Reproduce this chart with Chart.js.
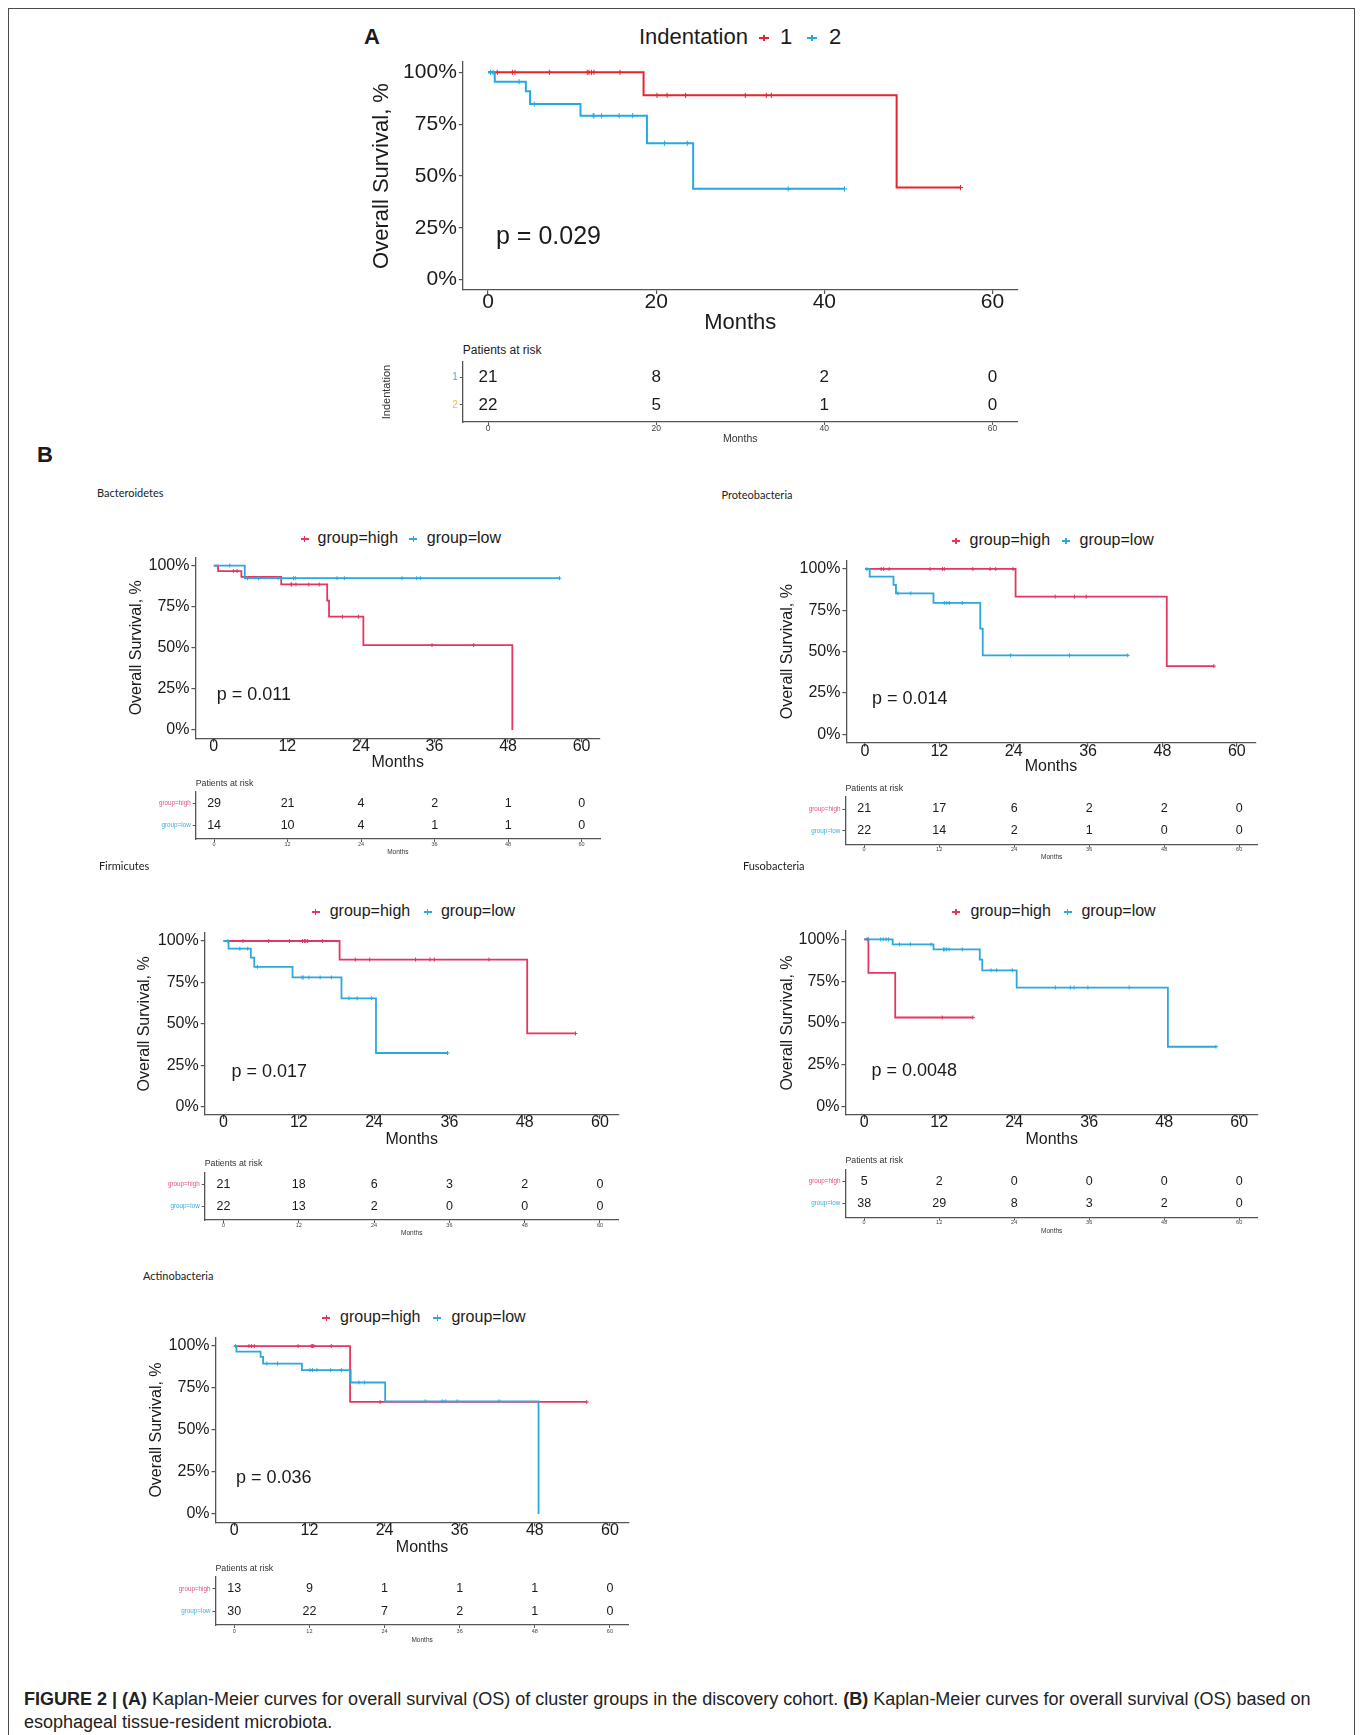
<!DOCTYPE html>
<html lang="en">
<head>
<meta charset="utf-8">
<title>Figure 2 - Kaplan-Meier curves</title>
<script src="https://cdn.jsdelivr.net/npm/chart.js@4.4.1/dist/chart.umd.min.js"></script>
<style>
  body { margin: 0; width: 1363px; height: 1735px; position: relative; overflow: hidden; background: #fff;
         font-family: 'Liberation Sans', Arial, Helvetica, sans-serif; color: #1b1b1b; }
  .frame { position: absolute; left: 8px; top: 8px; width: 1347px; height: 1800px; border: 1.5px solid #4a4a4a; box-sizing: border-box; }
  .t { position: absolute; white-space: nowrap; line-height: 1; transform: translateY(-50%); }
  .sub { font-family: Lato, 'Open Sans', sans-serif; font-size: 11px; color: #222; }
  canvas { position: absolute; }
  .mk { position: absolute; height: 2px; transform: translate(-50%, -50%); }
  .mk i { position: absolute; left: 50%; top: -2px; width: 1.2px; height: 6px; margin-left: -0.6px; }
  .cap { position: absolute; left: 24px; top: 1688px; font-size: 18px; line-height: 23px; color: #222; white-space: nowrap; }
</style>
</head>
<body>
<div class="frame"></div>
<div class="cap"><b>FIGURE 2 | (A)</b> Kaplan-Meier curves for overall survival (OS) of cluster groups in the discovery cohort. <b>(B)</b> Kaplan-Meier curves for overall survival (OS) based on<br>esophageal tissue-resident microbiota.</div>
<script>
// ---- axis ticks ----
const monthTicksA = [0, 20, 40, 60];
const monthTicksB = [0, 12, 24, 36, 48, 60];
const survTicks = [0, 0.25, 0.5, 0.75, 1];

// ---- A: Indentation groups ----
const aOneT = [0, 18.5, 48.6, 56.2];
const aOneS = [1, 0.889, 0.444, 0.444];
const aOneCens = [1.1, 2.9, 3.2, 7.3, 11.8, 12.0, 12.3, 12.6, 15.7, 20.1, 21.3, 23.5, 30.6, 33.1, 33.7, 56.2];
const aTwoT = [0, 0.8, 4.5, 5.0, 11.0, 18.9, 24.4, 42.4];
const aTwoS = [1, 0.955, 0.909, 0.847, 0.791, 0.658, 0.438, 0.438];
const aTwoCens = [0.3, 0.6, 3.7, 5.5, 12.5, 12.6, 13.5, 15.6, 17.2, 21.0, 23.7, 35.7, 42.4];
const aRisk1 = [21, 8, 2, 0];
const aRisk2 = [22, 5, 1, 0];

// ---- Bacteroidetes ----
const bacHighT = [0, 0.7, 4.5, 11.0, 18.5, 18.8, 24.4, 48.7];
const bacHighS = [1, 0.966, 0.931, 0.885, 0.787, 0.689, 0.516, 0];
const bacHighCens = [3.2, 3.8, 12.6, 12.7, 13.4, 15.5, 17.2, 21.0, 23.6, 35.6, 42.4];
const bacLowT = [0, 5.05, 56.4];
const bacLowS = [1, 0.923, 0.923];
const bacLowCens = [2.6, 5.5, 7.3, 10.5, 13.0, 13.3, 20.1, 21.3, 30.7, 33.1, 33.7, 56.4];
const bacRiskHigh = [29, 21, 4, 2, 1, 0];
const bacRiskLow = [14, 10, 4, 1, 1, 0];

// ---- Proteobacteria ----
const proHighT = [0, 24.3, 48.7, 56.3];
const proHighS = [1, 0.833, 0.413, 0.413];
const proHighCens = [2.6, 3.0, 3.9, 10.5, 12.5, 12.8, 17.4, 20.2, 21.1, 23.9, 30.7, 33.8, 35.7, 56.3];
const proLowT = [0, 0.76, 4.6, 5.0, 11.05, 18.6, 19.0, 42.4];
const proLowS = [1, 0.954, 0.904, 0.853, 0.795, 0.639, 0.478, 0.478];
const proLowCens = [0.3, 5.3, 7.4, 12.8, 13.2, 13.6, 15.7, 23.5, 33.0, 42.4];
const proRiskHigh = [21, 17, 6, 2, 2, 0];
const proRiskLow = [22, 14, 2, 1, 0, 0];

// ---- Firmicutes ----
const firHighT = [0, 18.5, 48.4, 56.1];
const firHighS = [1, 0.888, 0.442, 0.442];
const firHighCens = [3.1, 7.2, 10.5, 12.6, 12.9, 13.1, 13.4, 15.8, 21.0, 23.3, 30.6, 32.9, 33.6, 42.3, 56.1];
const firLowT = [0, 0.8, 4.35, 4.9, 11.0, 18.8, 24.3, 35.7];
const firLowS = [1, 0.954, 0.9, 0.844, 0.78, 0.654, 0.324, 0.324];
const firLowCens = [0.7, 2.6, 3.85, 5.4, 12.5, 12.7, 13.6, 15.4, 17.2, 20.0, 21.3, 23.6, 35.7];
const firRiskHigh = [21, 18, 6, 3, 2, 0];
const firRiskLow = [22, 13, 2, 0, 0, 0];

// ---- Fusobacteria ----
const fusHighT = [0, 0.68, 4.97, 17.4];
const fusHighS = [1, 0.8, 0.533, 0.533];
const fusHighCens = [0.5, 12.5, 17.4];
const fusLowT = [0, 4.56, 11.1, 18.5, 18.9, 24.4, 48.6, 56.3];
const fusLowS = [1, 0.97, 0.94, 0.879, 0.815, 0.712, 0.358, 0.358];
const fusLowCens = [0.7, 2.65, 3.05, 3.5, 3.9, 5.65, 7.4, 10.7, 12.7, 12.9, 13.2, 13.6, 15.7, 20.3, 21.2, 23.7, 30.6, 33.0, 33.6, 35.8, 42.4, 56.3];
const fusRiskHigh = [5, 2, 0, 0, 0, 0];
const fusRiskLow = [38, 29, 8, 3, 2, 0];

// ---- Actinobacteria ----
const actHighT = [0, 18.5, 56.3];
const actHighS = [1, 0.667, 0.667];
const actHighCens = [2.35, 2.75, 3.2, 10.2, 12.3, 12.5, 12.7, 15.5, 23.3, 56.3];
const actLowT = [0, 0.35, 4.2, 4.6, 10.8, 18.6, 24.1, 48.6];
const actLowS = [1, 0.967, 0.936, 0.896, 0.857, 0.783, 0.671, 0];
const actLowCens = [0.2, 5.2, 6.9, 12.1, 12.5, 13.2, 15.4, 17.1, 19.9, 20.8, 30.5, 33.2, 33.7, 35.6, 42.3];
const actRiskHigh = [13, 9, 1, 1, 1, 0];
const actRiskLow = [30, 22, 7, 2, 1, 0];

const FF = "'Liberation Sans', Arial, Helvetica, sans-serif";
const TXT = '#1b1b1b';
const AXIS = '#555555';
const RED_A = '#E5252B', BLUE_A = '#27A8E0';
const RED_B = '#E63561', BLUE_B = '#2DA7DF';

function survAt(T, S, t) {
  let v = S[0];
  T.forEach((x, i) => { if (x <= t) v = S[i]; });
  return v;
}

function label(x, y, text, css) {
  const d = document.createElement('div');
  d.className = 't';
  d.style.cssText = 'left:' + x + 'px;top:' + y + 'px;' + (css || '');
  d.textContent = text;
  document.body.appendChild(d);
  return d;
}

function marker(x, y, color, w) {
  const m = document.createElement('div');
  m.className = 'mk';
  m.style.cssText = 'left:' + x + 'px;top:' + y + 'px;width:' + w + 'px;background:' + color;
  const bar = document.createElement('i');
  bar.style.background = color;
  m.appendChild(bar);
  document.body.appendChild(m);
}

function newCanvas(left, top, w, h) {
  const cv = document.createElement('canvas');
  cv.width = w; cv.height = h;
  cv.style.left = left + 'px'; cv.style.top = top + 'px';
  document.body.appendChild(cv);
  return cv;
}

// draws the at-risk counts at each point of the table datasets
const riskText = {
  id: 'riskText',
  afterDatasetsDraw(chart, args, opts) {
    const ctx = chart.ctx;
    ctx.save();
    ctx.font = opts.size + 'px ' + FF;
    ctx.fillStyle = TXT;
    ctx.textAlign = 'center';
    ctx.textBaseline = 'middle';
    chart.data.datasets.forEach((ds, i) => {
      chart.getDatasetMeta(i).data.forEach((pt, j) => ctx.fillText(String(ds.data[j].n), pt.x, pt.y));
    });
    ctx.restore();
  }
};

function makeKM(p) {
  const cl = Math.round(p.yTitleX - p.titleSize / 2 - 2);
  const ct = Math.round(p.T - 24);
  const cr = Math.round(p.R + 14);
  const cb = Math.round(p.xTitleY + p.titleSize / 2 + 3);
  const cv = newCanvas(cl, ct, cr - cl, cb - ct);
  const datasets = [];
  p.groups.forEach((g, gi) => {
    datasets.push({
      type: 'line', order: 10 - gi,
      data: g.t.map((t, i) => ({ x: t, y: g.s[i] })),
      borderColor: g.color, borderWidth: p.lw, stepped: 'before',
      pointRadius: 0, fill: false, tension: 0
    });
    datasets.push({
      type: 'scatter', order: 2 - gi,
      data: g.cens.map(t => ({ x: t, y: survAt(g.t, g.s, t) })),
      pointStyle: 'cross', radius: p.cr, borderWidth: 1,
      borderColor: g.color, backgroundColor: g.color
    });
  });
  const tickFont = { family: FF, size: p.tickSize, lineHeight: 1 };
  const titleFont = { family: FF, size: p.titleSize, lineHeight: 1 };
  return new Chart(cv, {
    data: { datasets },
    options: {
      responsive: false, animation: false, events: [],
      layout: { padding: { left: 0, top: p.T - ct, right: cr - p.R, bottom: 0 } },
      plugins: { legend: { display: false }, tooltip: { enabled: false } },
      scales: {
        x: {
          type: 'linear', min: -3, max: 63,
          afterBuildTicks: ax => { ax.ticks = p.xTicks.map(v => ({ value: v })); },
          afterFit: s => { s.height = cb - p.B; },
          grid: { drawOnChartArea: false, tickLength: 4, color: AXIS, lineWidth: 1.2 },
          border: { color: AXIS, width: 1.3 },
          ticks: { font: tickFont, color: TXT, maxRotation: 0, autoSkip: false,
                   padding: p.xTickY - p.B - 4 - p.tickSize / 2 },
          title: { display: true, text: 'Months', font: titleFont, color: TXT, padding: { top: 0, bottom: 3 } }
        },
        y: {
          type: 'linear', min: -0.05, max: 1.05,
          afterBuildTicks: ax => { ax.ticks = survTicks.map(v => ({ value: v })); },
          afterFit: s => { s.width = p.L - cl; },
          grid: { drawOnChartArea: false, tickLength: 4, color: AXIS, lineWidth: 1.2 },
          border: { color: AXIS, width: 1.3 },
          ticks: { font: tickFont, color: TXT, padding: 2, callback: v => Math.round(v * 100) + '%' },
          title: { display: true, text: 'Overall Survival, %', font: titleFont, color: TXT, padding: { top: 2, bottom: 0 } }
        }
      }
    }
  });
}

function makeRisk(p) {
  const cl = Math.round(p.yTitle ? p.yTitleX - p.yTitleSize / 2 - 2 : p.L - 64);
  const ct = Math.round(p.T - 12);
  const cr = Math.round(p.R + 14);
  const cb = Math.round(p.monthsY + p.monthsSize / 2 + 3);
  const cv = newCanvas(cl, ct, cr - cl, cb - ct);
  const datasets = p.rows.map((row, r) => ({
    type: 'scatter', pointRadius: 0,
    data: row.map((n, j) => ({ x: p.xTicks[j], y: r + 1, n: n }))
  }));
  return new Chart(cv, {
    data: { datasets },
    options: {
      responsive: false, animation: false, events: [],
      layout: { padding: { left: 0, top: p.T - ct, right: cr - p.R, bottom: 0 } },
      plugins: { legend: { display: false }, tooltip: { enabled: false }, riskText: { size: p.numSize } },
      scales: {
        x: {
          type: 'linear', min: -3, max: 63,
          afterBuildTicks: ax => { ax.ticks = p.xTicks.map(v => ({ value: v })); },
          afterFit: s => { s.height = cb - p.B; },
          grid: { drawOnChartArea: false, tickLength: 3, color: AXIS, lineWidth: 1 },
          border: { color: AXIS, width: 1.3 },
          ticks: { font: { family: FF, size: p.tickSize, lineHeight: 1 }, color: '#444', maxRotation: 0, autoSkip: false,
                   padding: p.xTickY - p.B - 3 - p.tickSize / 2 },
          title: { display: true, text: 'Months', font: { family: FF, size: p.monthsSize, lineHeight: 1 }, color: '#333',
                   padding: { top: 0, bottom: 3 } }
        },
        y: {
          type: 'linear', min: 0.45, max: 2.62, reverse: true,
          afterBuildTicks: ax => { ax.ticks = [1, 2].map(v => ({ value: v })); },
          afterFit: s => { s.width = p.L - cl; },
          grid: { drawOnChartArea: false, tickLength: 3, color: AXIS, lineWidth: 1 },
          border: { color: AXIS, width: 1.3 },
          ticks: { font: { family: FF, size: p.labelSize, lineHeight: 1 }, padding: 2,
                   color: c => p.rowColors[c.index], callback: v => p.rowLabels[v - 1] },
          title: { display: !!p.yTitle, text: p.yTitle || '', font: { family: FF, size: p.yTitleSize || 10, lineHeight: 1 },
                   color: '#333', padding: { top: 2, bottom: 0 } }
        }
      }
    },
    plugins: [riskText]
  });
}

// ---------------- Panel A ----------------
label(364, 37, 'A', 'font-weight:bold;font-size:22px');
label(639, 37, 'Indentation', 'font-size:22px');
marker(764, 38, RED_A, 10);
label(780, 37, '1', 'font-size:22px');
marker(812, 38, BLUE_A, 10);
label(829, 37, '2', 'font-size:22px');
makeKM({
  L: 462.8, T: 62, R: 1017.7, B: 290, yTitleX: 382.4, xTitleY: 323, xTickY: 302,
  tickSize: 21, titleSize: 22, lw: 2, cr: 2.6, xTicks: monthTicksA,
  groups: [
    { t: aOneT, s: aOneS, cens: aOneCens, color: RED_A },
    { t: aTwoT, s: aTwoS, cens: aTwoCens, color: BLUE_A }
  ]
});
label(496, 235, 'p = 0.029', 'font-size:25px');
label(462.8, 350, 'Patients at risk', 'font-size:12px');
makeRisk({
  L: 462.8, T: 362, R: 1017.7, B: 422, xTickY: 429, monthsY: 439,
  numSize: 17, labelSize: 10, tickSize: 8.5, monthsSize: 10.5, xTicks: monthTicksA,
  rows: [aRisk1, aRisk2], rowLabels: ['1', '2'], rowColors: ['#5aa9d6', '#d6cc4c'],
  yTitle: 'Indentation', yTitleX: 386, yTitleSize: 11
});

// ---------------- Panel B ----------------
label(37, 455, 'B', 'font-weight:bold;font-size:22px');

const bPanels = [
  { name: 'Bacteroidetes', nameX: 97, nameY: 492,
    L: 195.4, T: 557.3, R: 600, B: 738.3, yTitleX: 136.8, xTitleY: 763.3, xTickY: 746.7,
    legY: 538, legMk: [304.5, 413.3], legTx: [317.6, 426.8], pX: 216.7, pY: 694, pTxt: 'p = 0.011',
    high: [bacHighT, bacHighS, bacHighCens], low: [bacLowT, bacLowS, bacLowCens],
    tab: { L: 195.7, T: 791.7, R: 600, B: 839, parY: 782.7, xTickY: 844, monthsY: 851.7 },
    risk: [bacRiskHigh, bacRiskLow] },
  { name: 'Proteobacteria', nameX: 721.4, nameY: 494.3,
    L: 846.4, T: 560.7, R: 1255.4, B: 742.7, yTitleX: 787.5, xTitleY: 766.7, xTickY: 751.7,
    legY: 540, legMk: [956, 1066], legTx: [969.6, 1079.6], pX: 872, pY: 698.3, pTxt: 'p = 0.014',
    high: [proHighT, proHighS, proHighCens], low: [proLowT, proLowS, proLowCens],
    tab: { L: 845.4, T: 797, R: 1257.9, B: 844.5, parY: 787.5, xTickY: 849.5, monthsY: 857 },
    risk: [proRiskHigh, proRiskLow] },
  { name: 'Firmicutes', nameX: 98.9, nameY: 865,
    L: 204.7, T: 932.7, R: 618.8, B: 1115, yTitleX: 145.4, xTitleY: 1140, xTickY: 1123,
    legY: 911, legMk: [315.9, 427.8], legTx: [329.7, 440.9], pX: 231.5, pY: 1070.7, pTxt: 'p = 0.017',
    high: [firHighT, firHighS, firHighCens], low: [firLowT, firLowS, firLowCens],
    tab: { L: 204.7, T: 1172.5, R: 618.8, B: 1220, parY: 1163, xTickY: 1225, monthsY: 1232.5 },
    risk: [firRiskHigh, firRiskLow] },
  { name: 'Fusobacteria', nameX: 742.9, nameY: 865,
    L: 845.4, T: 931, R: 1257.9, B: 1115, yTitleX: 787.5, xTitleY: 1140, xTickY: 1122.7,
    legY: 910.7, legMk: [956, 1067.9], legTx: [970.4, 1081.4], pX: 871.4, pY: 1070, pTxt: 'p = 0.0048',
    high: [fusHighT, fusHighS, fusHighCens], low: [fusLowT, fusLowS, fusLowCens],
    tab: { L: 845.4, T: 1169.3, R: 1257.9, B: 1217.3, parY: 1160, xTickY: 1222.3, monthsY: 1231 },
    risk: [fusRiskHigh, fusRiskLow] },
  { name: 'Actinobacteria', nameX: 143, nameY: 1275,
    L: 215.5, T: 1337.7, R: 628.7, B: 1522.3, yTitleX: 156.8, xTitleY: 1548.3, xTickY: 1530.7,
    legY: 1316.7, legMk: [326.4, 437.1], legTx: [340, 451.4], pX: 236, pY: 1477.3, pTxt: 'p = 0.036',
    high: [actHighT, actHighS, actHighCens], low: [actLowT, actLowS, actLowCens],
    tab: { L: 215.5, T: 1576.7, R: 628.7, B: 1625, parY: 1567.7, xTickY: 1631.7, monthsY: 1639.3 },
    risk: [actRiskHigh, actRiskLow] }
];

bPanels.forEach(b => {
  const title = label(b.nameX, b.nameY, b.name);
  title.classList.add('sub');
  marker(b.legMk[0], b.legY + 1, RED_B, 8);
  label(b.legTx[0], b.legY, 'group=high', 'font-size:16px');
  marker(b.legMk[1], b.legY + 1, BLUE_B, 8);
  label(b.legTx[1], b.legY, 'group=low', 'font-size:16px');
  makeKM({
    L: b.L, T: b.T, R: b.R, B: b.B, yTitleX: b.yTitleX, xTitleY: b.xTitleY, xTickY: b.xTickY,
    tickSize: 16, titleSize: 16, lw: 1.8, cr: 2, xTicks: monthTicksB,
    groups: [
      { t: b.high[0], s: b.high[1], cens: b.high[2], color: RED_B },
      { t: b.low[0], s: b.low[1], cens: b.low[2], color: BLUE_B }
    ]
  });
  label(b.pX, b.pY, b.pTxt, 'font-size:18px');
  label(b.tab.L, b.tab.parY, 'Patients at risk', 'font-size:8.8px;color:#333');
  makeRisk({
    L: b.tab.L, T: b.tab.T, R: b.tab.R, B: b.tab.B, xTickY: b.tab.xTickY, monthsY: b.tab.monthsY,
    numSize: 12.5, labelSize: 6.3, tickSize: 5.5, monthsSize: 6.5, xTicks: monthTicksB,
    rows: b.risk, rowLabels: ['group=high', 'group=low'], rowColors: ['#e0507f', '#38ade0']
  });
});
</script>
</body>
</html>
